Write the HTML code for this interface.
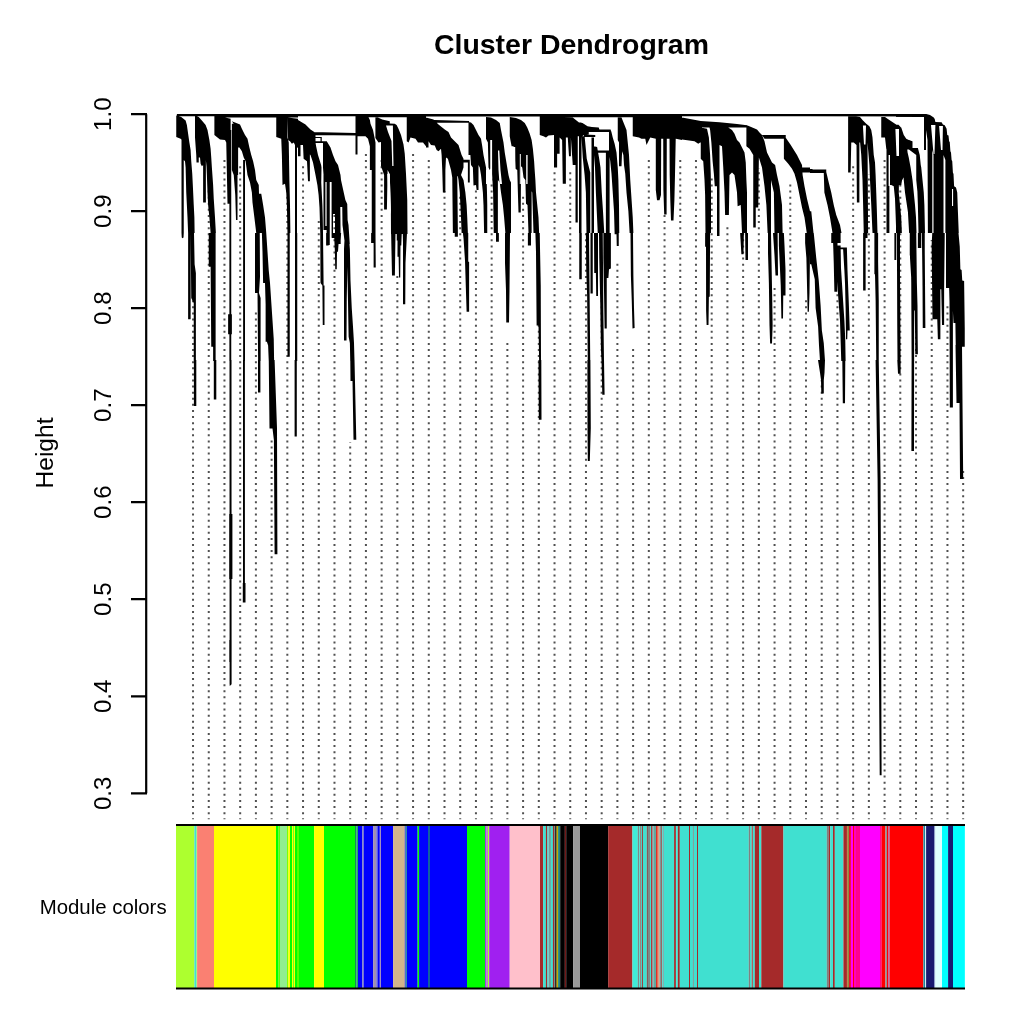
<!DOCTYPE html><html><head><meta charset="utf-8"><style>html,body{margin:0;padding:0;background:#fff}svg{display:block}</style></head><body>
<svg width="1024" height="1024" viewBox="0 0 1024 1024">
<rect width="1024" height="1024" fill="#fff"/>
<text x="434" y="54" font-family="Liberation Sans, Arial, sans-serif" font-weight="bold" font-size="28.45" fill="#000">Cluster Dendrogram</text>
<path d="M193.03 819.2V290.0 M208.75 819.2V188.0 M224.46 819.2V158.0 M240.18 819.2V164.0 M255.90 819.2V311.0 M271.62 819.2V440.0 M287.33 819.2V185.0 M303.05 819.2V164.0 M318.77 819.2V220.0 M334.48 819.2V212.0 M350.20 819.2V442.0 M365.92 819.2V152.0 M381.63 819.2V157.0 M397.35 819.2V276.0 M413.07 819.2V152.0 M428.78 819.2V158.0 M444.50 819.2V191.0 M460.22 819.2V195.0 M475.94 819.2V188.0 M491.65 819.2V158.0 M507.37 819.2V342.0 M523.09 819.2V195.0 M538.80 819.2V300.0 M554.52 819.2V170.0 M570.24 819.2V171.0 M585.96 819.2V230.0 M601.67 819.2V300.0 M617.39 819.2V262.0 M633.11 819.2V345.0 M648.82 819.2V158.0 M664.54 819.2V215.0 M680.26 819.2V158.0 M695.97 819.2V158.0 M711.69 819.2V176.0 M727.41 819.2V224.0 M743.12 819.2V204.0 M758.84 819.2V168.0 M774.56 819.2V286.0 M790.28 819.2V183.0 M805.99 819.2V300.0 M821.71 819.2V380.0 M837.43 819.2V293.0 M853.14 819.2V165.0 M868.86 819.2V174.0 M884.58 819.2V158.0 M900.29 819.2V176.0 M916.01 819.2V300.0 M931.73 819.2V240.0 M947.45 819.2V305.0 M963.16 819.2V470.0" stroke="#505050" stroke-width="2.0" stroke-dasharray="2.0 4.094" stroke-dashoffset="1.05" fill="none"/>
<rect x="176.0" y="825" width="18.45" height="163" fill="#ADFF2F"/>
<rect x="194.4" y="825" width="2.25" height="163" fill="#40E0D0"/>
<rect x="196.6" y="825" width="0.55" height="163" fill="#ADFF2F"/>
<rect x="197.1" y="825" width="16.95" height="163" fill="#FA8072"/>
<rect x="214.0" y="825" width="62.05" height="163" fill="#FFFF00"/>
<rect x="276.0" y="825" width="2.55" height="163" fill="#00FF00"/>
<rect x="278.5" y="825" width="1.55" height="163" fill="#60ff00"/>
<rect x="280.0" y="825" width="7.05" height="163" fill="#90EE90"/>
<rect x="287.0" y="825" width="1.45" height="163" fill="#80ff00"/>
<rect x="288.4" y="825" width="1.65" height="163" fill="#FFFF00"/>
<rect x="290.0" y="825" width="2.05" height="163" fill="#00FF00"/>
<rect x="292.0" y="825" width="1.15" height="163" fill="#FFFF00"/>
<rect x="293.1" y="825" width="0.75" height="163" fill="#00FF00"/>
<rect x="293.8" y="825" width="1.25" height="163" fill="#FFFF00"/>
<rect x="295.0" y="825" width="2.05" height="163" fill="#00FF00"/>
<rect x="297.0" y="825" width="2.05" height="163" fill="#50ff00"/>
<rect x="299.0" y="825" width="15.15" height="163" fill="#00FF00"/>
<rect x="314.1" y="825" width="9.95" height="163" fill="#FFFF00"/>
<rect x="324.0" y="825" width="31.05" height="163" fill="#00FF00"/>
<rect x="355.0" y="825" width="1.55" height="163" fill="#138c5c"/>
<rect x="356.5" y="825" width="1.55" height="163" fill="#20b060"/>
<rect x="358.0" y="825" width="4.35" height="163" fill="#0000FF"/>
<rect x="362.3" y="825" width="1.55" height="163" fill="#8080c0"/>
<rect x="363.8" y="825" width="9.45" height="163" fill="#0000FF"/>
<rect x="373.2" y="825" width="3.15" height="163" fill="#a090b0"/>
<rect x="376.3" y="825" width="1.65" height="163" fill="#6060e0"/>
<rect x="377.9" y="825" width="1.95" height="163" fill="#0000FF"/>
<rect x="379.8" y="825" width="1.25" height="163" fill="#a090c0"/>
<rect x="381.0" y="825" width="12.15" height="163" fill="#0000FF"/>
<rect x="393.1" y="825" width="11.75" height="163" fill="#D2B48C"/>
<rect x="404.8" y="825" width="0.85" height="163" fill="#0000FF"/>
<rect x="405.6" y="825" width="1.25" height="163" fill="#20a080"/>
<rect x="406.8" y="825" width="10.85" height="163" fill="#0000FF"/>
<rect x="417.6" y="825" width="1.55" height="163" fill="#00FF00"/>
<rect x="419.1" y="825" width="8.95" height="163" fill="#0000FF"/>
<rect x="428.0" y="825" width="2.05" height="163" fill="#1060a0"/>
<rect x="430.0" y="825" width="37.05" height="163" fill="#0000FF"/>
<rect x="467.0" y="825" width="18.15" height="163" fill="#00FF00"/>
<rect x="485.1" y="825" width="1.35" height="163" fill="#A020F0"/>
<rect x="486.4" y="825" width="0.85" height="163" fill="#9a9a9a"/>
<rect x="487.2" y="825" width="0.65" height="163" fill="#A020F0"/>
<rect x="487.8" y="825" width="1.45" height="163" fill="#ADFF2F"/>
<rect x="489.2" y="825" width="20.55" height="163" fill="#A020F0"/>
<rect x="509.7" y="825" width="30.35" height="163" fill="#FFC0CB"/>
<rect x="540.0" y="825" width="3.15" height="163" fill="#A52A2A"/>
<rect x="543.1" y="825" width="2.85" height="163" fill="#40E0D0"/>
<rect x="545.9" y="825" width="1.15" height="163" fill="#A52A2A"/>
<rect x="547.0" y="825" width="1.65" height="163" fill="#60d0c8"/>
<rect x="548.6" y="825" width="2.35" height="163" fill="#70a0a0"/>
<rect x="550.9" y="825" width="2.05" height="163" fill="#40E0D0"/>
<rect x="552.9" y="825" width="1.25" height="163" fill="#A52A2A"/>
<rect x="554.1" y="825" width="1.15" height="163" fill="#708080"/>
<rect x="555.2" y="825" width="1.45" height="163" fill="#000000"/>
<rect x="556.6" y="825" width="1.55" height="163" fill="#C0B000"/>
<rect x="558.1" y="825" width="2.15" height="163" fill="#208080"/>
<rect x="560.2" y="825" width="4.65" height="163" fill="#000000"/>
<rect x="564.8" y="825" width="1.45" height="163" fill="#701818"/>
<rect x="566.2" y="825" width="7.05" height="163" fill="#000000"/>
<rect x="573.2" y="825" width="6.85" height="163" fill="#999999"/>
<rect x="580.0" y="825" width="28.25" height="163" fill="#000000"/>
<rect x="608.2" y="825" width="24.25" height="163" fill="#A52A2A"/>
<rect x="632.4" y="825" width="5.45" height="163" fill="#40ecd8"/>
<rect x="637.8" y="825" width="1.45" height="163" fill="#7a8a88"/>
<rect x="639.2" y="825" width="0.85" height="163" fill="#40E0D0"/>
<rect x="640.0" y="825" width="0.75" height="163" fill="#A52A2A"/>
<rect x="640.7" y="825" width="1.25" height="163" fill="#40E0D0"/>
<rect x="641.9" y="825" width="1.05" height="163" fill="#A52A2A"/>
<rect x="642.9" y="825" width="3.95" height="163" fill="#40E0D0"/>
<rect x="646.8" y="825" width="1.25" height="163" fill="#8a5a55"/>
<rect x="648.0" y="825" width="2.05" height="163" fill="#7a8a88"/>
<rect x="650.0" y="825" width="1.15" height="163" fill="#40E0D0"/>
<rect x="651.1" y="825" width="1.45" height="163" fill="#A52A2A"/>
<rect x="652.5" y="825" width="0.95" height="163" fill="#70a0a0"/>
<rect x="653.4" y="825" width="2.65" height="163" fill="#60a8a0"/>
<rect x="656.0" y="825" width="1.75" height="163" fill="#e03025"/>
<rect x="657.7" y="825" width="1.05" height="163" fill="#f07050"/>
<rect x="658.7" y="825" width="1.05" height="163" fill="#c0b090"/>
<rect x="659.7" y="825" width="1.25" height="163" fill="#70a0a0"/>
<rect x="660.9" y="825" width="0.95" height="163" fill="#A52A2A"/>
<rect x="661.8" y="825" width="1.05" height="163" fill="#40E0D0"/>
<rect x="662.8" y="825" width="1.25" height="163" fill="#80b0b0"/>
<rect x="664.0" y="825" width="10.15" height="163" fill="#40E0D0"/>
<rect x="674.1" y="825" width="1.85" height="163" fill="#A52A2A"/>
<rect x="675.9" y="825" width="1.95" height="163" fill="#40f0e0"/>
<rect x="677.8" y="825" width="2.05" height="163" fill="#A52A2A"/>
<rect x="679.8" y="825" width="9.25" height="163" fill="#40E0D0"/>
<rect x="689.0" y="825" width="1.05" height="163" fill="#A52A2A"/>
<rect x="690.0" y="825" width="2.95" height="163" fill="#40E0D0"/>
<rect x="692.9" y="825" width="0.95" height="163" fill="#808080"/>
<rect x="693.8" y="825" width="3.25" height="163" fill="#40E0D0"/>
<rect x="697.0" y="825" width="1.05" height="163" fill="#A52A2A"/>
<rect x="698.0" y="825" width="50.85" height="163" fill="#40E0D0"/>
<rect x="748.8" y="825" width="1.25" height="163" fill="#808080"/>
<rect x="750.0" y="825" width="1.75" height="163" fill="#40E0D0"/>
<rect x="751.7" y="825" width="1.25" height="163" fill="#b05050"/>
<rect x="752.9" y="825" width="1.95" height="163" fill="#40E0D0"/>
<rect x="754.8" y="825" width="4.25" height="163" fill="#A52A2A"/>
<rect x="759.0" y="825" width="2.35" height="163" fill="#40E0D0"/>
<rect x="761.3" y="825" width="22.15" height="163" fill="#A52A2A"/>
<rect x="783.4" y="825" width="43.45" height="163" fill="#40E0D0"/>
<rect x="826.8" y="825" width="2.05" height="163" fill="#808080"/>
<rect x="828.8" y="825" width="1.45" height="163" fill="#A52A2A"/>
<rect x="830.2" y="825" width="2.85" height="163" fill="#40E0D0"/>
<rect x="833.0" y="825" width="1.85" height="163" fill="#A52A2A"/>
<rect x="834.8" y="825" width="8.30" height="163" fill="#40E0D0"/>
<rect x="843.0" y="825" width="0.60" height="163" fill="#808080"/>
<rect x="843.6" y="825" width="3.35" height="163" fill="#A52A2A"/>
<rect x="846.9" y="825" width="0.85" height="163" fill="#c06020"/>
<rect x="847.7" y="825" width="1.35" height="163" fill="#8a8a40"/>
<rect x="849.0" y="825" width="1.95" height="163" fill="#e8102a"/>
<rect x="850.9" y="825" width="2.15" height="163" fill="#FF00FF"/>
<rect x="853.0" y="825" width="1.05" height="163" fill="#FF0000"/>
<rect x="854.0" y="825" width="2.05" height="163" fill="#ff00c0"/>
<rect x="856.0" y="825" width="4.05" height="163" fill="#ff0090"/>
<rect x="860.0" y="825" width="20.05" height="163" fill="#FF00FF"/>
<rect x="880.0" y="825" width="1.85" height="163" fill="#ff1080"/>
<rect x="881.8" y="825" width="3.65" height="163" fill="#FF0000"/>
<rect x="885.4" y="825" width="1.65" height="163" fill="#909090"/>
<rect x="887.0" y="825" width="1.15" height="163" fill="#FF0000"/>
<rect x="888.1" y="825" width="1.65" height="163" fill="#c060a0"/>
<rect x="889.7" y="825" width="33.35" height="163" fill="#FF0000"/>
<rect x="923.0" y="825" width="1.05" height="163" fill="#80a0a0"/>
<rect x="924.0" y="825" width="1.35" height="163" fill="#2080a0"/>
<rect x="925.3" y="825" width="0.85" height="163" fill="#e0ffff"/>
<rect x="926.1" y="825" width="8.45" height="163" fill="#191970"/>
<rect x="934.5" y="825" width="0.95" height="163" fill="#a0c0e0"/>
<rect x="935.4" y="825" width="6.65" height="163" fill="#E0FFFF"/>
<rect x="942.0" y="825" width="6.15" height="163" fill="#00FFFF"/>
<rect x="948.1" y="825" width="4.95" height="163" fill="#191970"/>
<rect x="953.0" y="825" width="11.85" height="163" fill="#00FFFF"/>
<path d="M176 825H965M176 988.5H965" stroke="#000" stroke-width="2" fill="none"/>
<path d="M146.2 114.2V793.3 M131 114.2H147 M131 211.2H147 M131 308.2H147 M131 405.2H147 M131 502.2H147 M131 599.2H147 M131 696.3H147 M131 793.3H147" stroke="#000" stroke-width="2.2" fill="none"/>
<text transform="translate(111,114.2) rotate(-90)" text-anchor="middle" font-family="Liberation Sans, Arial, sans-serif" font-size="24" fill="#000">1.0</text>
<text transform="translate(111,211.2) rotate(-90)" text-anchor="middle" font-family="Liberation Sans, Arial, sans-serif" font-size="24" fill="#000">0.9</text>
<text transform="translate(111,308.2) rotate(-90)" text-anchor="middle" font-family="Liberation Sans, Arial, sans-serif" font-size="24" fill="#000">0.8</text>
<text transform="translate(111,405.2) rotate(-90)" text-anchor="middle" font-family="Liberation Sans, Arial, sans-serif" font-size="24" fill="#000">0.7</text>
<text transform="translate(111,502.2) rotate(-90)" text-anchor="middle" font-family="Liberation Sans, Arial, sans-serif" font-size="24" fill="#000">0.6</text>
<text transform="translate(111,599.2) rotate(-90)" text-anchor="middle" font-family="Liberation Sans, Arial, sans-serif" font-size="24" fill="#000">0.5</text>
<text transform="translate(111,696.3) rotate(-90)" text-anchor="middle" font-family="Liberation Sans, Arial, sans-serif" font-size="24" fill="#000">0.4</text>
<text transform="translate(111,793.3) rotate(-90)" text-anchor="middle" font-family="Liberation Sans, Arial, sans-serif" font-size="24" fill="#000">0.3</text>
<text transform="translate(52.8,453) rotate(-90)" text-anchor="middle" font-family="Liberation Sans, Arial, sans-serif" font-size="24.6" fill="#000">Height</text>
<text x="166.6" y="913.7" text-anchor="end" font-family="Liberation Sans, Arial, sans-serif" font-size="20.4" fill="#000">Module colors</text>
<path d="M176.88 114.00L298.00 114.00L298.00 117.50L225.00 117.50L225.00 116.25L176.88 116.25ZM176.25 115.62L181.25 116.88L185.62 120.62L186.88 125.00L188.12 133.75L189.38 142.50L190.62 150.00L191.25 161.25L192.25 173.75L192.88 186.25L193.75 205.00L194.38 217.50L194.62 233.00L188.12 233.00L187.50 217.50L186.25 192.50L185.62 167.50L185.00 161.25L183.75 160.00L183.75 142.50L181.88 140.00L180.62 138.75L176.25 136.88ZM181.50 138.75L183.75 138.75L183.75 233.00L181.50 233.00ZM195.00 115.62L198.75 116.88L202.50 121.25L205.62 125.00L207.50 130.00L209.38 140.00L210.62 148.75L211.25 157.50L211.88 167.50L213.12 185.00L213.75 198.75L215.00 217.50L215.88 233.00L210.62 233.00L209.38 217.50L208.12 205.00L207.50 192.50L206.88 175.00L206.50 166.25L205.62 157.50L203.75 157.50L203.12 165.00L201.88 166.25L200.62 163.75L200.00 157.50L198.75 157.50L198.75 162.50L196.50 162.50L196.25 155.00L195.00 137.50ZM203.12 157.50L205.88 157.50L205.88 202.50L203.12 202.50ZM214.38 116.25L225.00 116.25L225.00 140.00L220.00 139.38L214.38 135.00ZM225.00 117.50L230.62 118.75L230.62 203.75L227.50 203.75L226.25 142.50L225.00 140.00ZM229.38 130.00L231.25 130.00L231.25 233.00L229.38 233.00ZM231.88 123.75L238.12 123.75L238.12 175.00L237.50 175.00L237.50 220.00L236.00 220.00L235.25 195.00L233.75 175.00L231.88 170.00ZM243.12 160.00L245.00 160.00L245.00 233.00L243.12 233.00ZM231.88 121.25L235.00 122.50L240.00 124.38L241.88 128.75L245.00 135.00L247.50 138.75L249.38 147.50L251.25 155.00L253.12 161.25L255.00 170.00L256.25 180.00L258.75 185.00L259.00 193.75L261.25 193.75L263.12 205.00L265.00 217.50L266.25 233.00L256.25 233.00L254.38 217.50L252.50 202.50L251.88 192.50L250.00 182.50L247.50 175.00L245.62 161.25L243.75 157.50L241.88 151.25L239.38 147.50L238.12 147.50L238.12 130.00ZM276.25 116.88L287.50 117.50L287.50 137.50L288.75 142.50L289.38 180.00L290.00 205.00L290.38 233.00L287.50 233.00L286.88 205.00L286.25 192.50L285.00 183.75L282.50 185.00L281.88 155.00L281.25 138.75L276.25 136.88ZM287.50 117.50L298.00 118.75L298.00 148.12L295.00 145.00L293.75 142.50L291.88 143.75L290.00 141.25L288.12 140.00ZM295.00 142.50L297.00 142.50L297.00 233.00L295.00 233.00ZM298.00 114.00L426.00 114.00L426.00 117.25L355.50 117.25L355.50 116.25L298.00 116.25ZM298.00 120.00L305.50 124.38L310.50 129.38L314.25 131.88L315.50 133.75L315.50 142.50L316.12 146.25L318.00 155.00L321.12 165.00L321.50 167.50L321.25 182.50L321.75 192.50L322.38 205.00L322.75 217.50L323.00 233.00L320.25 233.00L319.50 207.50L318.62 195.00L317.38 185.00L315.50 175.00L313.00 162.50L310.50 155.00L309.88 154.38L309.88 181.25L308.00 181.25L307.00 161.25L303.62 158.75L303.00 145.00L300.50 145.00L300.50 156.25L298.00 156.25ZM311.75 131.88L355.50 133.12L355.50 135.62L311.75 135.00ZM315.50 136.88L321.75 136.88L321.75 142.50L315.50 142.50L315.50 141.25L320.50 141.25L320.50 138.12L315.50 138.12ZM315.50 141.25L326.75 141.25L330.50 147.50L333.00 155.00L335.50 161.25L338.00 165.00L340.50 175.00L341.12 181.25L324.00 181.25L323.00 167.50L323.00 143.12L315.50 143.12ZM355.50 116.25L357.50 116.25L357.50 154.38L355.50 154.38ZM355.50 116.25L368.00 116.25L369.88 120.00L370.50 123.75L373.00 130.00L374.25 136.25L375.50 142.50L375.50 233.00L371.75 233.00L371.75 170.00L369.88 170.00L369.88 146.25L368.00 138.75L365.50 136.25L357.38 136.25L355.50 135.62ZM406.75 116.88L426.00 116.88L426.00 146.25L423.00 142.50L418.00 142.50L415.50 138.75L410.50 137.50L408.62 142.50L406.75 141.25ZM426.00 114.00L554.00 114.00L554.00 116.50L426.00 116.50ZM426.00 119.75L469.12 121.00L469.12 122.75L426.00 122.75ZM426.00 117.50L433.50 119.38L438.50 124.38L444.75 129.38L448.50 131.88L451.00 137.50L454.75 141.25L458.50 145.00L461.62 155.00L463.50 158.75L463.50 167.50L461.00 175.00L457.25 176.25L452.25 177.50L451.00 170.00L447.88 158.75L446.00 157.50L445.38 170.00L445.38 192.50L442.88 192.50L442.25 170.00L441.62 155.00L441.00 148.75L438.50 151.25L436.62 150.00L434.75 145.62L431.00 145.00L428.50 141.25L428.50 147.50L426.00 147.50ZM451.00 170.00L456.00 172.50L457.25 175.00L457.88 233.00L452.88 233.00L452.25 177.50ZM457.25 172.50L461.00 175.00L463.50 180.00L465.38 192.50L466.62 205.00L467.25 217.50L467.88 233.00L461.62 233.00L461.00 217.50L459.75 192.50L458.50 180.00ZM463.50 159.75L469.75 159.75L469.75 182.50L467.88 182.50L467.88 162.50L463.50 162.50ZM468.50 121.88L471.00 122.50L473.50 125.00L476.00 130.00L478.50 135.00L481.00 138.75L482.25 146.25L483.50 155.00L484.75 161.25L486.00 167.50L486.62 180.00L487.00 192.50L487.25 205.00L487.25 233.00L484.12 233.00L483.50 205.00L482.88 192.50L482.25 186.25L481.00 175.00L479.75 167.50L478.50 165.00L478.50 190.00L476.62 190.00L476.00 185.00L473.50 185.62L472.88 167.50L471.00 165.00L470.38 155.00L468.50 155.00ZM486.00 116.88L491.00 117.50L496.00 120.00L499.75 123.12L501.00 130.00L502.25 136.25L503.50 142.50L504.75 152.50L506.00 160.00L507.25 167.50L508.50 175.00L509.75 180.00L511.00 182.50L511.00 233.00L505.38 233.00L504.12 217.50L502.88 205.00L501.00 192.50L499.75 182.50L497.88 180.00L497.88 233.00L493.75 233.00L493.12 192.50L491.62 167.50L489.75 170.00L488.50 167.50L487.88 142.50L486.00 138.75ZM509.75 116.88L516.00 118.12L521.00 120.00L524.75 123.12L527.25 127.50L529.75 133.75L531.62 140.00L532.88 148.75L533.50 155.00L534.12 161.25L534.75 171.25L535.38 180.00L536.00 192.50L537.25 205.00L538.50 217.50L539.12 233.00L533.50 233.00L532.25 192.50L531.62 191.25L531.62 233.00L528.50 233.00L527.50 205.00L526.00 203.75L525.38 180.00L523.50 177.50L522.25 167.50L521.00 166.25L520.75 212.50L518.50 212.50L517.88 192.50L517.25 170.00L515.38 168.75L514.75 155.00L513.50 146.25L511.62 146.25L510.38 140.00L509.75 136.25ZM539.75 116.25L554.00 116.25L554.00 135.00L548.50 135.62L546.00 137.50L543.50 136.25L539.75 135.00ZM554.00 114.00L682.00 114.00L682.00 117.25L554.00 117.25ZM554.00 116.88L572.75 117.50L576.50 120.62L579.00 122.50L580.25 136.25L575.88 136.25L575.88 165.00L572.75 165.00L570.88 137.50L570.88 156.25L569.00 156.25L567.75 137.50L565.88 137.50L565.88 183.75L562.75 183.75L562.12 140.00L559.62 137.50L559.62 153.75L557.12 153.75L557.12 167.50L554.62 167.50L554.00 167.50ZM575.50 136.25L577.75 136.25L577.75 222.50L575.50 222.50ZM579.00 122.50L581.50 122.50L581.50 233.00L579.00 233.00ZM579.00 122.50L582.50 123.12L587.50 126.25L591.88 127.12L598.75 127.50L599.38 129.62L610.62 129.62L611.25 131.88L588.75 131.88L588.75 134.38L584.00 135.00L582.12 136.25L580.25 136.25ZM584.00 134.38L595.25 135.00L595.25 136.88L584.00 136.88ZM591.50 137.50L594.00 137.50L594.00 233.00L591.50 233.00ZM594.00 146.25L597.12 146.88L599.00 157.50L600.50 167.50L601.75 192.50L603.00 211.25L604.25 233.00L597.75 233.00L596.75 211.25L595.88 192.50L595.00 167.50L594.00 155.00ZM594.00 150.62L609.00 150.62L609.00 152.75L594.00 152.75ZM605.88 152.50L609.62 152.50L609.62 233.00L605.88 233.00ZM609.00 130.00L611.25 131.25L612.75 137.50L614.62 143.75L616.50 152.50L617.75 167.50L618.38 180.00L619.00 205.00L619.25 233.00L614.62 233.00L614.00 211.25L612.75 192.50L611.50 173.75L610.25 161.25L609.00 152.50ZM581.50 136.25L584.62 136.25L586.75 158.75L590.25 172.50L590.25 233.00L586.50 233.00L585.88 192.50L584.62 175.00L582.75 157.50ZM617.75 117.50L621.50 117.50L624.00 123.75L626.50 130.00L627.75 142.50L629.00 155.00L629.62 167.50L630.25 180.00L631.50 198.75L632.75 217.50L633.38 233.00L629.62 233.00L628.38 211.25L626.50 192.50L625.25 173.75L624.00 165.00L623.38 155.00L622.12 151.25L621.50 166.25L619.00 166.25L619.00 142.50L617.75 140.00ZM632.75 116.88L682.00 116.88L682.00 140.00L675.88 138.75L655.88 138.75L650.25 137.50L646.50 145.00L645.25 138.75L641.50 138.75L639.00 137.50L632.75 136.25ZM682.00 114.00L810.00 114.00L810.00 116.25L682.00 116.25ZM682.00 117.50L700.75 121.00L719.50 122.25L737.00 124.00L747.00 125.25L747.00 127.50L702.00 127.50L702.00 141.25L698.25 143.75L694.50 141.25L682.00 139.38ZM700.75 127.50L707.00 128.75L708.88 137.50L710.12 155.00L710.75 173.75L711.00 192.50L711.00 233.00L705.50 233.00L705.12 195.00L704.50 180.00L703.25 161.25L700.75 158.75ZM709.50 127.50L719.50 127.50L719.50 233.00L717.00 233.00L717.00 186.25L714.75 186.25L713.88 173.75L712.62 161.25L711.38 142.50L710.12 130.00ZM719.50 123.75L728.25 127.50L732.00 130.00L734.50 133.75L737.00 140.00L739.50 142.50L742.00 147.50L744.50 152.50L745.75 162.50L746.38 180.00L747.00 192.50L747.00 233.00L742.00 233.00L740.75 205.00L737.62 206.25L737.00 192.50L734.50 175.00L732.00 172.50L729.50 175.00L728.88 215.00L725.12 215.00L724.50 192.50L723.25 167.50L722.00 146.25L719.50 145.00ZM746.38 125.00L757.00 129.38L759.50 132.50L762.00 135.00L764.50 141.25L767.00 152.50L769.50 157.50L772.00 162.50L775.12 165.00L777.00 175.00L779.50 186.25L782.00 205.00L782.62 233.00L774.50 233.00L773.88 192.50L771.00 180.00L771.00 233.00L767.62 233.00L766.38 205.00L764.50 186.25L762.00 167.50L758.88 157.50L758.25 207.50L755.75 207.50L755.75 227.50L753.25 227.50L753.25 155.00L749.50 148.75L746.38 146.25ZM783.88 136.88L785.75 137.75L790.75 145.00L797.00 155.00L802.00 165.00L802.62 175.00L804.50 186.25L807.00 198.75L810.00 211.25L810.00 233.00L806.75 233.00L804.50 217.50L802.00 207.50L799.50 195.00L797.00 182.50L794.50 173.75L792.00 168.75L788.25 163.75L783.88 158.75ZM800.75 167.50L810.00 167.50L810.00 172.50L800.75 172.50ZM762.00 135.00L785.75 135.00L785.75 138.75L764.50 138.75ZM810.00 114.00L926.25 114.00L930.00 115.00L933.75 117.50L935.00 119.38L932.50 118.75L928.75 116.50L810.00 116.25ZM810.00 169.00L812.50 169.00L812.50 169.38L826.25 169.38L826.25 173.12L810.00 173.12ZM823.75 171.25L826.25 171.88L828.75 182.50L831.25 192.50L833.75 205.00L836.25 215.00L840.00 225.00L841.50 233.00L832.50 233.00L830.00 217.50L827.50 205.00L824.38 192.50L823.75 172.50ZM810.00 211.25L811.25 211.25L813.50 233.00L810.00 233.00ZM848.12 115.62L860.00 116.88L862.50 120.00L866.25 123.75L868.75 126.25L868.75 142.50L860.00 142.50L859.38 142.50L859.38 202.50L856.88 202.50L856.50 145.00L853.75 142.50L851.25 142.50L850.62 172.50L848.12 172.50ZM860.00 141.25L867.50 141.25L868.12 233.00L863.75 233.00L863.12 205.00L862.50 180.00L861.25 155.00ZM866.25 123.75L869.38 126.25L871.25 130.00L872.50 137.50L873.12 146.25L873.75 155.00L875.00 162.50L875.62 175.00L876.25 192.50L876.88 211.25L877.50 233.00L872.50 233.00L871.25 205.00L870.00 180.00L869.38 165.00L867.50 142.50ZM881.25 116.88L885.00 116.88L887.50 118.75L895.00 123.75L898.75 126.25L901.25 127.50L903.75 135.00L906.25 138.75L908.75 140.00L908.75 147.50L906.25 148.75L905.00 150.00L903.75 175.00L902.50 177.50L901.25 185.00L897.50 185.00L896.25 180.00L892.50 185.00L890.00 185.00L888.75 155.00L886.25 148.75L885.00 137.50L881.25 137.50ZM886.50 147.50L889.38 147.50L889.38 233.00L886.50 233.00ZM905.00 148.75L906.88 149.38L908.75 157.50L910.62 167.50L912.50 180.00L913.75 192.50L915.00 205.00L916.00 217.50L916.50 233.00L910.00 233.00L908.75 217.50L906.88 205.00L905.00 192.50L903.75 180.00L903.12 167.50ZM890.00 155.00L895.00 157.50L897.50 180.00L898.75 192.50L900.00 205.00L901.25 217.50L901.88 233.00L896.25 233.00L895.62 215.00L895.00 198.75L893.75 186.25L891.25 185.00ZM906.25 147.50L917.50 148.12L918.75 152.50L920.00 161.25L921.25 167.50L922.50 180.00L923.75 192.50L924.38 205.00L925.00 233.00L920.00 233.00L919.38 217.50L918.75 205.00L917.50 192.50L916.25 180.00L916.25 155.00ZM906.25 140.62L912.50 141.25L912.50 148.12L906.25 148.12ZM896.00 114.75L924.75 114.75L929.75 116.25L933.50 118.12L934.75 120.00L933.50 120.62L929.75 118.75L924.75 116.88L896.00 116.88ZM896.00 124.38L898.50 124.75L901.00 127.50L903.50 135.00L906.00 138.75L912.25 141.25L912.25 148.12L907.25 149.38L904.75 175.00L902.25 180.00L901.62 156.25L899.12 156.25L898.50 233.00L896.00 233.00ZM903.50 148.75L907.25 149.38L908.50 161.25L910.38 180.00L912.25 192.50L914.12 211.25L915.75 233.00L909.12 233.00L907.88 211.25L906.00 192.50L904.12 180.00ZM912.25 148.12L917.88 148.12L919.75 155.00L921.00 167.50L922.25 180.00L923.25 205.00L924.12 233.00L918.50 233.00L917.88 205.00L917.00 180.00L916.25 155.00L915.38 149.38ZM181.50 233.00L183.75 233.00L183.50 237.38L182.62 238.25L181.75 237.38ZM188.12 233.00L190.62 233.00L190.62 319.25L188.12 319.25ZM190.62 233.00L194.00 233.00L194.62 264.25L195.88 273.00L195.88 361.00L193.75 361.00L193.75 303.00L191.25 298.00ZM208.75 233.00L215.62 233.00L215.62 361.00L213.12 361.00L213.12 346.75L211.25 346.75L210.62 266.75L208.75 266.75ZM229.38 233.00L231.25 233.00L231.25 361.00L229.38 361.00ZM228.12 314.25L231.88 314.25L231.88 334.25L228.12 334.25ZM243.12 233.00L245.00 233.00L245.00 361.00L243.12 361.00ZM255.00 233.00L259.75 233.00L260.00 276.75L259.00 293.00L260.62 298.00L260.62 361.00L258.12 361.00L257.50 293.00L255.00 293.00ZM261.88 233.00L266.25 233.00L267.50 251.75L268.75 270.50L270.00 283.00L271.25 301.75L272.50 320.50L273.75 339.25L274.12 361.00L268.75 361.00L268.12 345.50L266.88 341.75L265.62 341.75L265.62 304.25L265.00 283.00L263.12 283.00L262.50 251.75ZM287.50 233.00L289.75 233.00L289.75 356.75L287.50 356.75ZM295.00 233.00L297.25 233.00L297.25 361.00L295.00 361.00ZM320.25 233.00L323.00 233.00L323.62 285.50L324.50 285.50L324.50 324.88L322.75 324.88L322.38 285.50L320.50 283.00ZM326.12 233.00L328.62 233.00L328.62 245.50L326.12 245.50ZM331.75 233.00L341.12 233.00L340.50 243.00L338.62 243.00L338.00 251.75L337.00 251.75L336.75 269.25L335.25 269.25L334.88 251.75L334.25 238.00L331.75 238.00ZM344.88 233.00L348.62 233.00L349.88 249.25L350.50 280.50L351.75 308.00L353.00 326.75L354.00 343.00L354.50 361.00L350.25 361.00L349.88 343.00L348.62 336.75L348.00 301.75L347.38 266.75L346.75 299.25L346.50 340.50L344.00 340.50L344.00 249.25ZM371.12 233.00L375.50 233.00L375.75 267.38L373.62 267.38L373.62 243.00L371.12 243.00ZM391.12 233.00L395.50 233.00L394.88 275.50L392.00 275.50ZM396.75 233.00L401.75 233.00L401.25 245.50L400.50 245.50L400.25 277.38L399.00 277.38L398.62 256.75L397.50 256.75L397.50 240.50L396.75 240.50ZM402.75 233.00L407.00 233.00L406.50 243.00L405.50 263.00L405.25 304.25L403.00 304.25L403.00 243.00ZM454.75 233.00L457.88 233.00L457.88 236.75L454.75 236.75ZM462.88 233.00L468.25 233.00L468.25 261.75L469.12 261.75L469.12 311.75L466.62 311.75L466.00 293.00L465.00 260.50L463.50 238.00ZM496.00 233.00L498.88 233.00L498.88 241.75L496.00 241.75ZM505.00 233.00L510.00 233.00L509.50 290.50L509.00 322.38L506.25 322.38L506.00 290.50L505.00 263.00ZM527.88 233.00L531.00 233.00L531.00 245.50L527.88 245.50ZM535.38 233.00L539.75 233.00L540.00 248.00L540.75 285.50L541.00 361.00L539.12 361.00L538.50 325.50L536.62 325.50L536.00 251.75ZM579.25 233.00L581.75 233.00L581.75 279.25L579.25 279.25ZM585.88 233.00L589.00 233.00L589.62 295.50L590.25 361.00L587.75 361.00L587.12 295.50L586.25 270.50ZM590.50 233.00L592.75 233.00L592.75 293.62L590.50 293.62ZM594.00 233.00L598.00 233.00L598.00 296.12L596.25 296.12L595.88 273.00L594.25 273.00ZM599.00 233.00L602.75 233.00L603.38 313.00L604.00 361.00L601.50 361.00L600.88 348.00L600.25 304.25L599.25 258.00ZM603.38 233.00L610.88 233.00L610.88 268.62L609.00 269.25L608.38 278.00L606.75 278.00L606.75 328.62L604.62 328.62L604.00 290.50L603.38 258.00ZM614.62 233.00L618.75 233.00L618.75 246.12L616.75 246.12L616.50 234.25L614.62 234.25ZM630.50 233.00L633.00 233.00L633.38 275.50L634.00 308.00L634.62 328.00L632.50 328.62L631.75 300.50L630.88 275.50ZM705.12 233.00L710.12 233.00L709.75 296.75L708.88 296.75L708.50 324.88L706.62 324.88L706.12 310.50L706.00 246.75L705.12 246.75ZM717.00 233.00L719.50 233.00L719.50 236.12L717.00 236.12ZM740.12 233.00L743.88 233.00L743.50 254.25L741.38 254.25L740.50 239.25ZM745.12 233.00L748.00 233.00L748.00 259.88L745.50 259.88ZM768.00 233.00L771.00 233.00L772.25 300.50L772.62 325.50L772.00 343.62L770.12 343.62L769.50 325.50L768.88 283.00L768.00 253.00ZM773.00 233.00L777.62 233.00L778.00 275.50L775.50 275.50L774.50 255.50L773.50 240.50ZM778.88 233.00L783.88 233.00L784.50 245.50L785.50 269.25L785.50 295.50L783.25 295.50L783.00 318.62L781.38 318.62L780.75 285.50L778.88 245.50ZM805.12 233.00L810.00 233.00L810.00 253.00L809.50 293.00L808.88 311.75L807.62 311.75L806.38 258.00L805.12 243.00ZM810.00 233.00L813.75 233.00L816.25 258.00L818.75 280.50L820.62 305.50L821.88 330.50L823.75 343.00L825.00 361.00L820.00 361.00L819.00 345.50L818.12 326.75L815.62 308.00L814.75 279.25L811.25 264.25L810.00 264.25ZM831.25 233.00L840.62 233.00L840.62 243.00L837.50 243.00L837.25 291.75L834.38 291.75L833.75 263.00L833.12 243.00L831.25 243.00ZM836.88 245.50L840.62 245.50L841.00 268.00L842.75 295.50L844.38 320.50L845.25 339.25L845.62 361.00L841.25 361.00L840.00 320.50L838.12 295.50L836.25 264.25ZM838.75 247.38L846.88 247.38L847.50 270.50L848.75 301.75L849.75 330.50L847.50 330.50L847.25 339.25L846.00 339.25L845.62 308.00L845.00 283.00L844.38 270.50L843.12 249.25L838.75 249.25ZM863.12 233.00L867.50 233.00L867.50 238.00L865.62 238.00L865.62 290.50L863.12 290.50ZM874.38 233.00L878.12 233.00L878.12 261.75L878.75 300.50L878.75 361.00L876.25 361.00L875.62 300.50L875.00 274.25L874.38 274.25ZM894.38 233.00L896.25 233.00L896.25 259.88L894.38 259.88ZM896.88 233.00L900.00 233.00L900.00 270.50L900.62 361.00L897.50 361.00L897.25 326.75ZM910.00 233.00L916.25 233.00L916.88 283.00L917.50 305.50L917.75 354.25L915.25 354.25L915.00 310.50L913.75 308.00L913.50 361.00L911.88 361.00L911.50 283.00L910.00 258.00ZM918.12 233.00L921.25 233.00L921.25 248.00L918.12 248.00ZM921.88 233.00L924.38 233.00L925.00 328.00L922.75 328.00L922.50 283.00ZM933.12 233.00L938.00 233.00L938.00 255.50L936.88 255.50L935.62 319.25L933.12 319.25L931.88 258.00ZM909.75 233.00L916.00 233.00L916.00 245.50L916.62 283.00L917.25 305.50L917.88 354.25L915.38 354.25L914.75 310.50L914.12 310.50L914.12 361.00L911.62 361.00L911.25 283.00L910.75 255.50L909.75 255.50ZM917.88 233.00L921.00 233.00L921.00 248.00L917.88 248.00ZM922.25 233.00L924.75 233.00L924.75 250.50L925.38 328.00L923.25 328.00L922.50 285.50ZM932.25 233.00L944.75 233.00L944.12 289.25L944.12 324.88L942.00 324.88L941.25 289.25L940.38 289.25L940.38 339.25L937.88 339.25L937.25 319.25L932.50 319.25L931.62 245.50ZM946.00 233.00L958.50 233.00L959.75 246.75L960.38 269.25L961.62 269.88L962.25 280.50L964.12 281.12L964.75 328.00L964.75 346.75L962.25 346.75L961.62 345.50L961.62 361.00L956.00 361.00L955.38 323.00L953.50 323.00L952.88 310.50L949.75 310.50L949.12 288.00L946.00 288.00ZM538.50 360.00L541.30 360.00L541.50 419.70L538.80 419.70ZM587.40 360.00L590.40 360.00L590.80 428.00L589.80 461.00L587.80 461.00L587.50 428.00ZM601.50 360.00L604.00 360.00L604.60 394.80L602.30 394.80ZM818.00 360.00L825.00 360.00L824.50 372.80L823.80 380.00L823.80 393.50L821.30 393.50L821.00 380.00L820.00 372.80ZM842.30 360.00L845.30 360.00L845.00 403.30L842.80 403.30ZM897.30 360.00L900.60 360.00L900.60 373.70L898.00 373.70ZM911.60 360.00L914.10 360.00L914.00 451.00L911.40 451.00ZM949.50 300.00L952.90 300.00L952.90 407.40L949.80 407.40ZM955.50 345.00L962.00 345.00L962.50 403.00L963.20 479.00L960.00 479.00L959.50 403.00L956.50 403.00ZM229.50 360.00L231.50 360.00L231.60 684.30L229.80 686.00L229.60 684.00ZM229.20 514.00L232.40 514.00L232.40 579.00L229.20 579.00ZM229.30 640.00L231.60 640.00L231.60 662.00L229.30 662.00ZM243.00 360.00L244.90 360.00L244.90 602.60L243.00 602.60ZM242.80 583.00L245.50 583.00L245.50 602.60L242.80 602.60ZM268.75 360.00L274.60 360.00L277.00 428.00L277.40 554.20L274.60 554.20L273.90 440.00L272.50 428.50L269.50 428.50ZM294.60 360.00L296.80 360.00L296.80 436.50L294.60 436.50ZM193.90 360.00L196.30 360.00L196.30 406.00L193.90 406.00ZM213.80 360.00L216.30 360.00L216.30 399.60L213.80 399.60ZM258.00 360.00L260.40 360.00L260.40 392.60L258.00 392.60ZM350.30 360.00L354.50 360.00L356.30 439.75L353.50 439.75L352.50 381.00L350.50 381.00ZM875.60 360.00L878.75 360.00L880.60 480.00L881.60 775.30L879.70 775.30L877.60 480.00ZM331.60 168.00L338.00 168.00L341.00 180.00L345.40 200.00L347.25 204.00L347.60 220.00L348.50 225.00L349.75 244.00L344.90 244.00L342.50 225.00L342.25 207.00L340.30 207.00L340.70 244.00L335.00 244.00L335.00 214.00L333.00 214.00L333.00 237.50L331.60 237.50ZM326.60 165.00L329.75 165.00L329.75 245.00L326.60 245.00ZM323.50 170.00L325.40 170.00L325.40 228.00L323.50 228.00ZM323.50 226.00L329.75 226.00L329.75 230.00L323.50 230.00ZM324.00 168.00L331.60 168.00L331.60 182.00L324.00 182.00ZM924.00 115.50L926.00 115.50L926.00 150.00L924.00 150.00ZM926.00 115.60L931.00 116.25L932.25 118.75L934.75 119.40L935.40 121.90L941.60 122.20L942.90 124.40L944.75 125.30L946.60 128.75L947.25 135.00L948.50 135.60L949.10 141.25L949.75 141.90L950.40 151.25L951.00 152.50L951.60 160.00L952.25 161.25L952.90 172.50L953.50 174.00L954.10 186.25L956.00 187.50L957.25 192.50L957.90 211.25L958.75 233.00L945.40 233.00L945.40 160.00L943.50 155.00L943.50 233.00L933.50 233.00L933.50 155.00L932.30 150.00L932.30 233.00L927.90 233.00L927.50 140.00L926.00 130.00ZM655.80 135.00L661.20 135.00L661.00 195.00L659.50 200.30L657.00 200.30L655.80 190.00ZM663.20 135.00L666.80 135.00L666.60 214.40L664.20 214.40L663.40 190.00ZM669.50 135.00L675.80 135.00L675.00 175.00L674.40 200.00L673.50 220.60L671.00 220.60L670.30 200.00L669.70 175.00ZM375.40 117.50L377.90 117.50L382.25 119.40L389.75 121.25L389.75 123.40L394.75 123.75L396.60 125.00L398.50 128.75L401.00 135.00L403.50 144.40L404.75 153.75L406.00 174.00L407.25 200.00L407.50 234.00L391.00 234.00L390.90 215.00L389.75 174.00L387.60 170.00L386.90 209.60L384.10 209.60L384.10 175.00L381.00 166.00L381.00 142.00L378.50 142.50L377.50 141.00L375.40 138.00Z" fill="#000"/>
<path d="M931.00 125.00L935.40 125.00L934.50 154.00L933.50 154.00ZM939.10 126.00L942.90 126.00L942.50 150.00L941.00 150.00ZM895.40 129.00L899.00 129.00L899.00 156.00L896.50 156.00ZM888.60 155.00L890.00 155.00L890.00 186.00L888.60 186.00ZM862.90 125.60L866.00 125.60L865.50 144.40L864.00 144.40ZM386.00 125.60L392.90 125.60L393.20 150.00L393.50 166.00L392.25 166.00L391.50 141.00L388.00 132.00ZM387.25 174.00L389.75 174.00L390.90 210.00L390.50 215.00L389.50 210.00ZM490.25 140.00L492.10 140.00L492.10 184.00L486.00 184.00L486.00 170.00L490.25 170.00ZM498.00 150.60L499.30 150.60L500.50 170.00L502.00 184.00L499.50 184.00L498.50 170.00ZM519.80 154.00L520.80 154.00L520.80 184.00L519.80 184.00ZM526.20 155.00L527.60 155.00L527.60 184.00L526.20 184.00ZM511.00 147.00L515.20 147.00L515.40 170.00L511.00 170.00ZM952.00 189.00L953.10 189.00L953.10 206.00L952.00 206.00Z" fill="#fff"/>
</svg></body></html>
